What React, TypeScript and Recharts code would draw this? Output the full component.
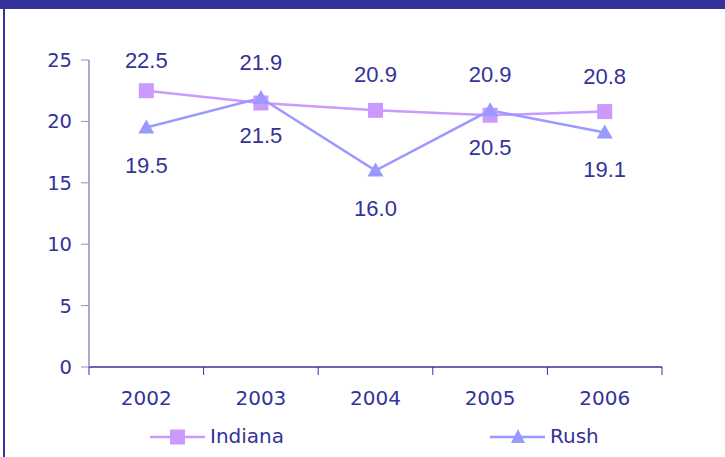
import React from 'react';
import { LineChart, Line, XAxis, YAxis, LabelList, Legend } from 'recharts';

const years = ['2002', '2003', '2004', '2005', '2006'];
const indiana = [22.5, 21.5, 20.9, 20.5, 20.8];
const rush = [19.5, 21.9, 16.0, 20.9, 19.1];
const yTicks = [0, 5, 10, 15, 20, 25];
const seriesNames = ['Indiana', 'Rush'];
const seriesColors = ['#CC99FF', '#9999FF'];

const data = years.map((y, i) => ({ year: y, Indiana: indiana[i], Rush: rush[i] }));

const TEXT = '#333399';
const W = 725;
const H = 457;
const M = { top: 60, right: 63, bottom: 0, left: 0 };
const Y_W = 89;
const HALF = (W - M.left - M.right - Y_W) / years.length / 2;

const SquareDot = (props: any) => {
  const { cx, cy } = props;
  if (cx == null || cy == null) return null;
  return <rect x={cx - 7.5} y={cy - 7.5} width={15} height={15} fill={seriesColors[0]} />;
};

const TriDot = (props: any) => {
  const { cx, cy } = props;
  if (cx == null || cy == null) return null;
  return <polygon points={`${cx},${cy - 8} ${cx + 8},${cy + 6} ${cx - 8},${cy + 6}`} fill={seriesColors[1]} />;
};

const makeLabel = (own: number[], other: number[], belowOff: number) => (props: any) => {
  const { x, y, index, value } = props;
  const above = own[index] >= other[index];
  return (
    <text
      x={x}
      y={above ? Math.max(y - 28, M.top + 8) : y + belowOff}
      textAnchor="middle"
      fill={TEXT}
      fontSize={22}
      fontFamily="'Liberation Sans', Arial, sans-serif"
    >
      {Number(value).toFixed(1)}
    </text>
  );
};

const XTick = (props: any) => {
  const { x, y, payload, index } = props;
  return (
    <g>
      <line x1={x - HALF} x2={x - HALF} y1={y} y2={y + 8} stroke={TEXT} strokeWidth={1} />
      {index === years.length - 1 && (
        <line x1={x + HALF} x2={x + HALF} y1={y} y2={y + 8} stroke={TEXT} strokeWidth={1} />
      )}
      <text x={x} y={y + 38} textAnchor="middle" fill={TEXT} fontSize={20} fontFamily="'DejaVu Sans', Verdana, sans-serif">
        {payload.value}
      </text>
    </g>
  );
};

const LegendContent = () => (
  <div style={{ position: 'relative', width: W, height: 40 }}>
    {[0, 1].map((i) => {
      const left = i === 0 ? 150 : 490;
      return (
        <div key={i} style={{ position: 'absolute', left, top: 0, height: 40 }}>
          <svg width={56} height={40} style={{ position: 'absolute', left: 0, top: 0 }}>
            <line x1={0} x2={55} y1={20} y2={20} stroke={seriesColors[i]} strokeWidth={2.5} />
            {i === 0 ? (
              <rect x={20} y={12.5} width={15} height={15} fill={seriesColors[0]} />
            ) : (
              <polygon points="28,12 35,26 21,26" fill={seriesColors[1]} />
            )}
          </svg>
          <span
            style={{
              position: 'absolute',
              left: 60,
              top: 7,
              fontSize: 20,
              lineHeight: '24px',
              color: TEXT,
              fontFamily: "'DejaVu Sans', Verdana, sans-serif",
              whiteSpace: 'nowrap',
            }}
          >
            {seriesNames[i]}
          </span>
        </div>
      );
    })}
  </div>
);

export default function App() {
  return (
    <div style={{ position: 'absolute', left: 0, top: 0, width: W, height: H, background: '#fff', overflow: 'hidden' }}>
      <div style={{ position: 'absolute', left: 0, top: 0, width: W, height: 9, background: TEXT }} />
      <div style={{ position: 'absolute', left: 3, top: 9, width: 2, height: H - 9, background: TEXT }} />
      <div style={{ position: 'absolute', left: 0, top: 0 }}>
        <LineChart width={W} height={H} data={data} margin={M}>
          <XAxis
            dataKey="year"
            padding={{ left: HALF, right: HALF }}
            tickLine={false}
            tickSize={0}
            tickMargin={0}
            axisLine={{ stroke: TEXT, strokeWidth: 1.5 }}
            height={50}
            tick={<XTick />}
            interval={0}
          />
          <YAxis
            width={Y_W}
            domain={[0, 25]}
            ticks={yTicks}
            interval={0}
            axisLine={{ stroke: '#8f8fc0', strokeWidth: 1.5 }}
            tickLine={{ stroke: '#8f8fc0' }}
            tickSize={8}
            tickMargin={9}
            tick={{ fill: TEXT, fontSize: 19.5, fontFamily: "'DejaVu Sans', Verdana, sans-serif" }}
          />
          <Legend verticalAlign="bottom" height={40} content={<LegendContent />} />
          <Line
            type="linear"
            dataKey="Indiana"
            stroke={seriesColors[0]}
            strokeWidth={2.5}
            dot={<SquareDot />}
            activeDot={false}
            isAnimationActive={false}
          >
            <LabelList dataKey="Indiana" content={makeLabel(indiana, rush, 40)} />
          </Line>
          <Line
            type="linear"
            dataKey="Rush"
            stroke={seriesColors[1]}
            strokeWidth={2.5}
            dot={<TriDot />}
            activeDot={false}
            isAnimationActive={false}
          >
            <LabelList dataKey="Rush" content={makeLabel(rush, indiana, 45)} />
          </Line>
        </LineChart>
      </div>
    </div>
  );
}
